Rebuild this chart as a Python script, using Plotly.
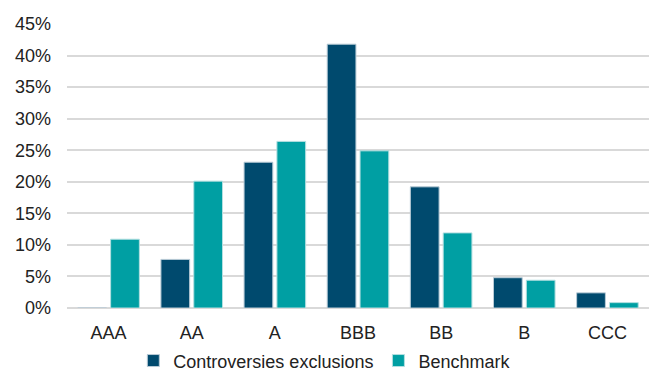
import plotly.graph_objects as go

ratings = ["AAA", "AA", "A", "BBB", "BB", "B", "CCC"]
controversies = [0.0, 7.7, 23.1, 41.8, 19.2, 4.8, 2.4]
benchmark = [10.9, 20.1, 26.4, 24.9, 11.9, 4.4, 0.85]
y_ticks = [0, 5, 10, 15, 20, 25, 30, 35, 40, 45]

fig = go.Figure()
fig.add_trace(go.Bar(
    x=ratings, y=controversies, name="Controversies exclusions",
    marker=dict(color="#004A6E", line=dict(color="#b9cbd6", width=1)),
))
fig.add_trace(go.Bar(
    x=ratings, y=benchmark, name="Benchmark",
    marker=dict(color="#009FA3", line=dict(color="#b3dfe0", width=1)),
))

fig.update_layout(
    width=649, height=372,
    margin=dict(l=67, r=0, t=24, b=64, autoexpand=False),
    paper_bgcolor="white", plot_bgcolor="white",
    barmode="group", bargap=0.21, bargroupgap=0.125,
    font=dict(family="Liberation Sans, Arial, sans-serif", size=18, color="#222222"),
    showlegend=True,
    legend=dict(
        orientation="h", x=0.443, xanchor="center",
        yref="container", y=0.03, yanchor="middle",
        bgcolor="rgba(0,0,0,0)",
        font=dict(size=18), itemwidth=30, traceorder="normal",
    ),
    xaxis=dict(
        showgrid=False, showline=False, ticks="", tickfont=dict(size=18),
        ticklabelstandoff=12,
    ),
    yaxis=dict(
        range=[0, 45], tickvals=y_ticks, ticktext=[f"{v}%" for v in y_ticks],
        showgrid=True, gridcolor="#d9d9d9", gridwidth=2,
        zeroline=True, zerolinecolor="#d9d9d9", zerolinewidth=2,
        showline=False, ticks="", tickfont=dict(size=18), ticklabelstandoff=15,
    ),
)

fig.write_html("out.html")
